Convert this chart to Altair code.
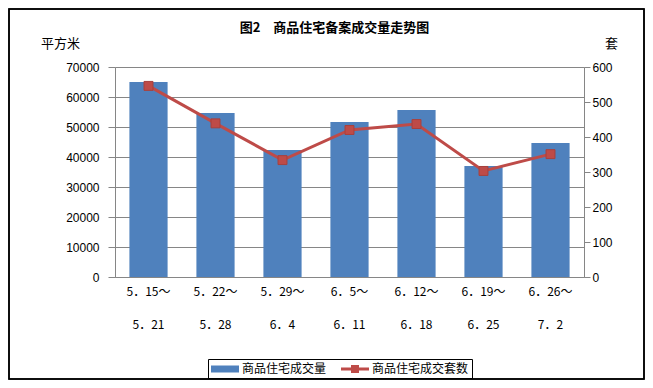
import altair as alt
import pandas as pd

# ---- data ----
week_start = ["5．15", "5．22", "5．29", "6．5", "6．12", "6．19", "6．26"]
week_end = ["5．21", "5．28", "6．4", "6．11", "6．18", "6．25", "7．2"]
area = [65000, 54700, 42300, 51700, 55700, 37000, 44700]      # 平方米
units = [546, 439, 334, 420, 437, 303, 351]                    # 套
series_names = ["商品住宅成交量", "商品住宅成交套数"]

cats = [f"{a}～{b}" for a, b in zip(week_start, week_end)]
df = pd.DataFrame({"cat": cats, "area": area, "units": units})
leg_df = pd.DataFrame({"series": series_names})

CJK = "Noto Sans CJK SC"
NUM = "Liberation Sans"
BLUE = "#4F81BD"
RED = "#BE4B48"
GRID = "#868686"

W, H = 469, 210

x_enc = alt.X(
    "cat:N", sort=cats, title=None,
    scale=alt.Scale(paddingInner=0.43, paddingOuter=0.215),
    axis=alt.Axis(
        labelExpr="[split(datum.label,'～')[0] + '～', split(datum.label,'～')[1]]",
        labelAngle=0, ticks=False, domain=True, domainColor=GRID,
        labelFont=CJK, labelFontSize=12, labelColor="black",
        labelPadding=9, labelLineHeight=33, grid=False,
    ),
)

bars = alt.Chart(df).mark_bar(color=BLUE).encode(
    x=x_enc,
    y=alt.Y(
        "area:Q",
        scale=alt.Scale(domain=[0, 70000], nice=False),
        axis=alt.Axis(
            values=list(range(0, 70001, 10000)), format="d",
            grid=True, gridColor=GRID,
            domainColor=GRID, tickColor=GRID, tickSize=7,
            labelFont=NUM, labelFontSize=12, labelColor="black", labelPadding=9,
            title="平方米", titleAngle=0, titleX=-55, titleY=-24,
            titleAlign="center", titleBaseline="middle",
            titleFont=CJK, titleFontSize=13, titleFontWeight="normal",
            titleColor="black",
        ),
    ),
)

line = alt.Chart(df).mark_line(
    color=RED, strokeWidth=3,
    point=alt.OverlayMarkDef(shape="square", size=80, filled=True,
                             color=RED, stroke="#A8403D", strokeWidth=1),
).encode(
    x=alt.X("cat:N", sort=cats),
    y=alt.Y(
        "units:Q",
        scale=alt.Scale(domain=[0, 600], nice=False),
        axis=alt.Axis(
            orient="right", values=list(range(0, 601, 100)), format="d",
            grid=False,
            domainColor=GRID, tickColor=GRID, tickSize=6,
            labelFont=NUM, labelFontSize=12, labelColor="black", labelPadding=2,
            title="套", titleAngle=0, titleX=27, titleY=-24,
            titleAlign="center", titleBaseline="middle",
            titleFont=CJK, titleFontSize=13, titleFontWeight="normal",
            titleColor="black",
        ),
    ),
)

bar_sym = "M-2,-0.5H2V0.5H-2Z"
line_sym = "M-2,-0.21H-0.57V-0.57H0.57V-0.21H2V0.21H0.57V0.57H-0.57V0.21H-2Z"

legend_layer = alt.Chart(leg_df).mark_point(filled=True, size=0, opacity=1).encode(
    color=alt.Color(
        "series:N", scale=alt.Scale(domain=series_names, range=[BLUE, RED]),
        legend=alt.Legend(
            title=None, orient="none", legendX=93, legendY=292,
            direction="horizontal", symbolOpacity=1, symbolSize=196,
            symbolStrokeWidth=0, symbolOffset=7, labelFont=CJK, labelFontSize=12,
            labelColor="black", strokeColor="black", padding=3,
            columnPadding=14, labelOffset=10, labelLimit=200,
        ),
    ),
    shape=alt.Shape(
        "series:N", scale=alt.Scale(domain=series_names, range=[bar_sym, line_sym]),
    ),
)

frame = alt.Chart(leg_df).mark_rect(
    fill=None, stroke="black", strokeWidth=1.5
).encode(
    x=alt.value(-106), x2=alt.value(W + 60),
    y=alt.value(-58), y2=alt.value(H + 102),
)

chart = alt.layer(bars, line, legend_layer, frame).resolve_scale(
    y="independent"
).properties(
    width=W, height=H,
    autosize="none",
    padding={"left": 107, "top": 59, "right": 61, "bottom": 103},
    title=alt.TitleParams(
        "图2　商品住宅备案成交量走势图", anchor="middle", dx=-15, dy=37,
        baseline="middle",
        font=CJK, fontSize=13, fontWeight="bold", color="black",
    ),
).configure_view(stroke=None).configure(background="white")

chart.save("out.html", embed_options={"renderer": "svg", "actions": False})
